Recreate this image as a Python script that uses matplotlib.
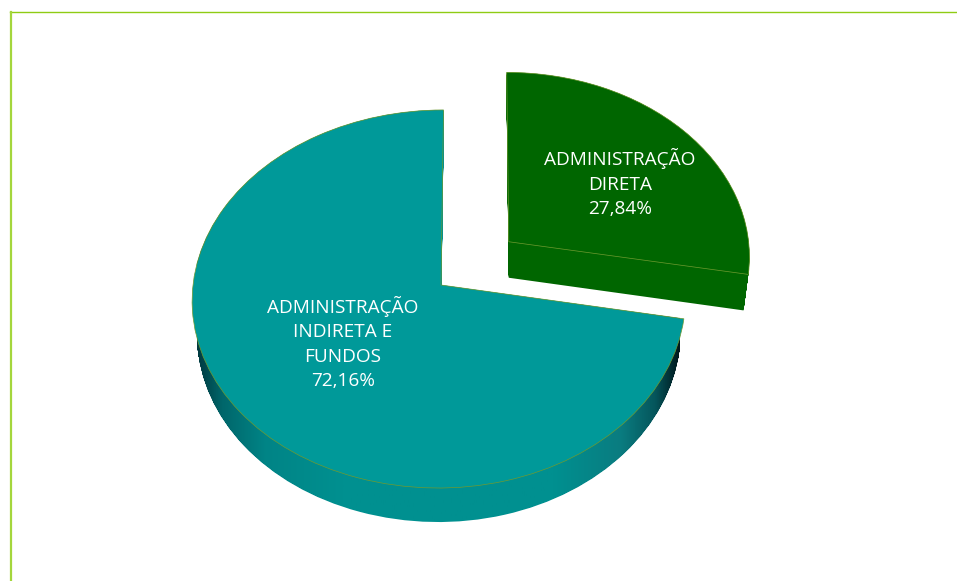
#! /usr/bin/env python

import numpy as np
import matplotlib
matplotlib.use('Agg')
import matplotlib.pyplot as plt
from matplotlib.colors import LinearSegmentedColormap
from matplotlib.patches import PathPatch
from matplotlib.path import Path
from matplotlib.transforms import Affine2D, Transform

categories = ['ADMINISTRAÇÃO\nINDIRETA E\nFUNDOS\n72,16%', 'ADMINISTRAÇÃO\nDIRETA\n27,84%']
values = [72.16, 27.84]
explode = [0, 0.365]
colors = ['#009999', '#006600']


class Tilt(Transform):
    # unit disc -> pixels, seen from above with a bit of perspective
    input_dims = 2
    output_dims = 2
    is_separable = False

    def transform_non_affine(self, xy):
        xy = np.asarray(xy)
        w = 1 + 0.074 * xy[:, 1]
        r = np.where(xy[:, 0] < 0, 248, 244)
        x = r * xy[:, 0] / w + 2.5 * xy[:, 1]
        return np.column_stack([441 + x, 285 - 188 * xy[:, 1] / w])


fig = plt.figure(figsize=(9.57, 5.81), dpi=100)
ax = fig.add_axes([0, 0, 1, 1])
tilt = Tilt()

wedges, _ = ax.pie(values, explode=explode, colors=colors, startangle=90, radius=1,
                   wedgeprops={'transform': tilt + ax.transData, 'edgecolor': '#6f9a30',
                               'linewidth': 0.5, 'zorder': 3})

ax.set_aspect('auto')
ax.set_xlim(0, 957)
ax.set_ylim(581, 0)


## Side of the pie: the top face pushed down and shrunk a little, one pixel at a time
def extrude(wedge, depth, cx):
    top = tilt.transform_path(wedge.get_path())
    layers = []
    for d in range(depth + 1):
        s = 1 - 0.02 * d / depth
        layers.append(Affine2D().translate(-cx, 0).scale(s, 1).translate(cx, d).transform_path(top))
    return Path.make_compound_path(*layers)


side = LinearSegmentedColormap.from_list('side', [(0.0, '#003a40'), (0.05, '#00666a'),
                                                  (0.14, '#008486'), (0.30, '#009090'),
                                                  (0.74, '#009090'), (0.88, '#0a7c80'),
                                                  (0.95, '#05565c'), (1.0, '#00181c')])
im = ax.imshow(np.linspace(0, 1, 256)[None, :], cmap=side, extent=(197, 680, 581, 0),
               aspect='auto', zorder=1)
im.set_clip_path(extrude(wedges[0], 34, 443), ax.transData)

ax.add_patch(PathPatch(extrude(wedges[1], 36, 508), facecolor=colors[1], edgecolor='none', zorder=1))

ax.set_xlim(0, 957)
ax.set_ylim(581, 0)

## Labels
ax.text(343, 343, categories[0], color='white', family='Open Sans', fontsize=13.7, ha='center',
        va='center', linespacing=1.47, zorder=4)
ax.text(620, 183, categories[1], color='white', family='Open Sans', fontsize=13.7, ha='center',
        va='center', linespacing=1.47, zorder=4)

## Frame
ax.plot([10, 957], [12, 12], color='#8fcc14', linewidth=1.0, zorder=5)
ax.plot([10.5, 10.5], [12, 581], color='#a4d63c', linewidth=1.6, zorder=5)

plt.savefig('out.png', dpi=100)
